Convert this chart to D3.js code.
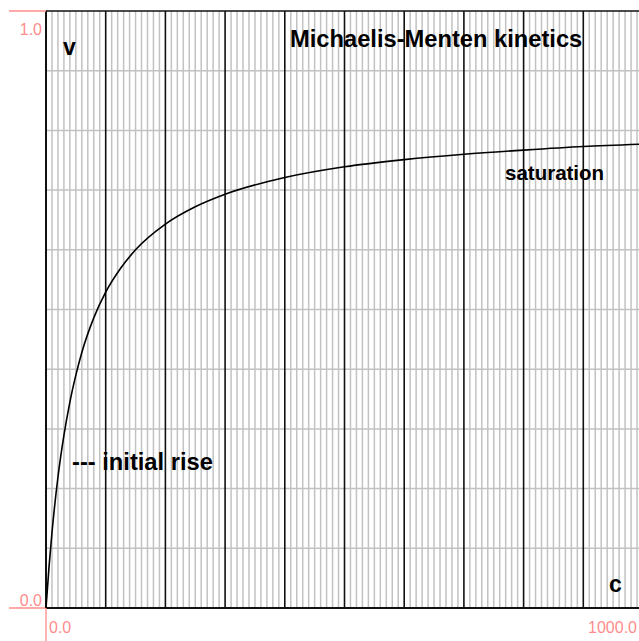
<!DOCTYPE html>
<html>
<head>
<meta charset="utf-8">
<script src="https://cdn.jsdelivr.net/npm/d3@7"></script>
<style>
  html, body { margin: 0; padding: 0; background: #fff; }
  svg { display: block; }
  text { font-family: "Liberation Sans", Arial, sans-serif; }
</style>
</head>
<body>
<script>
// Substrate concentration c and reaction rate v (Michaelis-Menten curve)
const conc = [0, 5, 10, 20, 30, 40, 50, 60, 80, 100, 125, 150, 200, 250, 300, 400, 500, 600, 700, 800, 900, 1000];
const rate = [0, 0.068, 0.126, 0.219, 0.289, 0.345, 0.390, 0.428, 0.486, 0.529, 0.569, 0.600, 0.643, 0.672, 0.693, 0.721, 0.739, 0.751, 0.760, 0.767, 0.773, 0.777];

const xDomain = [0, 1000];
const yDomain = [0, 1];
const xTickLabels = ["0.0", "1000.0"];
const yTickLabels = ["0.0", "1.0"];
const title = "Michaelis-Menten kinetics";
const xName = "c";
const yName = "v";
const notes = ["saturation", "--- initial rise"];

const W = 639, H = 641;
const plotLeft = 46, plotTop = 11, plotSize = 597;
const pink = "#ff8c8c";
const gridGrey = "#c2c2c2";

const x = d3.scaleLinear().domain(xDomain).range([plotLeft, plotLeft + plotSize]);
const y = d3.scaleLinear().domain(yDomain).range([plotTop + plotSize, plotTop]);

const svg = d3.select("body").append("svg").attr("width", W).attr("height", H);

// fine vertical grid every 10 units
svg.append("g").selectAll("line")
  .data(d3.range(0, 1001, 10).filter(d => d % 100 !== 0))
  .join("line")
  .attr("x1", d => x(d)).attr("x2", d => x(d))
  .attr("y1", y(1)).attr("y2", y(0))
  .attr("stroke", gridGrey).attr("stroke-width", 1.5);

// horizontal grid every 0.1
svg.append("g").selectAll("line")
  .data(d3.range(1, 10).map(i => i / 10))
  .join("line")
  .attr("x1", x(0)).attr("x2", W)
  .attr("y1", d => y(d)).attr("y2", d => y(d))
  .attr("stroke", gridGrey).attr("stroke-width", 1.5);

// heavy vertical grid every 100 units
svg.append("g").selectAll("line")
  .data(d3.range(100, 1001, 100))
  .join("line")
  .attr("x1", d => x(d)).attr("x2", d => x(d))
  .attr("y1", y(1)).attr("y2", y(0))
  .attr("stroke", "#111").attr("stroke-width", 1.6);

// frame: top border, x axis, y axis
svg.append("line").attr("x1", x(0)).attr("x2", W).attr("y1", y(1)).attr("y2", y(1))
  .attr("stroke", "#111").attr("stroke-width", 1.6);
svg.append("line").attr("x1", x(0)).attr("x2", W).attr("y1", y(0)).attr("y2", y(0))
  .attr("stroke", "#111").attr("stroke-width", 2);
svg.append("line").attr("x1", x(0)).attr("x2", x(0)).attr("y1", y(1)).attr("y2", y(0))
  .attr("stroke", "#111").attr("stroke-width", 2);

// pink tick marks
svg.append("line").attr("x1", 9).attr("x2", x(0)).attr("y1", y(1)).attr("y2", y(1))
  .attr("stroke", pink).attr("stroke-width", 1.3);
svg.append("line").attr("x1", 9).attr("x2", x(0)).attr("y1", y(0)).attr("y2", y(0))
  .attr("stroke", pink).attr("stroke-width", 1.3);
svg.append("line").attr("x1", x(0)).attr("x2", x(0)).attr("y1", y(0)).attr("y2", H)
  .attr("stroke", pink).attr("stroke-width", 1.3);

// curve
const line = d3.line().x((d, i) => x(conc[i])).y((d, i) => y(rate[i])).curve(d3.curveMonotoneX);
svg.append("path").datum(rate).attr("d", line)
  .attr("fill", "none").attr("stroke", "#000").attr("stroke-width", 1.6);

// tick labels
svg.append("text").attr("x", 42).attr("y", y(1) + 24).attr("text-anchor", "end")
  .attr("font-size", 16).attr("fill", pink).text(yTickLabels[1]);
svg.append("text").attr("x", 42).attr("y", y(0) - 2).attr("text-anchor", "end")
  .attr("font-size", 16).attr("fill", pink).text(yTickLabels[0]);
svg.append("text").attr("x", x(0) + 3).attr("y", y(0) + 25).attr("text-anchor", "start")
  .attr("font-size", 16).attr("fill", pink).text(xTickLabels[0]);
svg.append("text").attr("x", W - 2).attr("y", y(0) + 25).attr("text-anchor", "end")
  .attr("font-size", 16).attr("fill", pink).text(xTickLabels[1]);

// title and axis names
svg.append("text").attr("x", 290).attr("y", 47).attr("font-size", 23.7)
  .attr("font-weight", "bold").attr("fill", "#000").text(title);
svg.append("text").attr("x", 63).attr("y", 55).attr("font-size", 23)
  .attr("font-weight", "bold").attr("fill", "#000").text(yName);
svg.append("text").attr("x", 609).attr("y", 592).attr("font-size", 23)
  .attr("font-weight", "bold").attr("fill", "#000").text(xName);

// annotations
svg.append("text").attr("x", 505).attr("y", 180).attr("font-size", 20.5)
  .attr("font-weight", "bold").attr("fill", "#000").text(notes[0]);
svg.append("text").attr("x", 72).attr("y", 469.5).attr("font-size", 23.7)
  .attr("font-weight", "bold").attr("fill", "#000").text(notes[1]);
</script>
</body>
</html>
